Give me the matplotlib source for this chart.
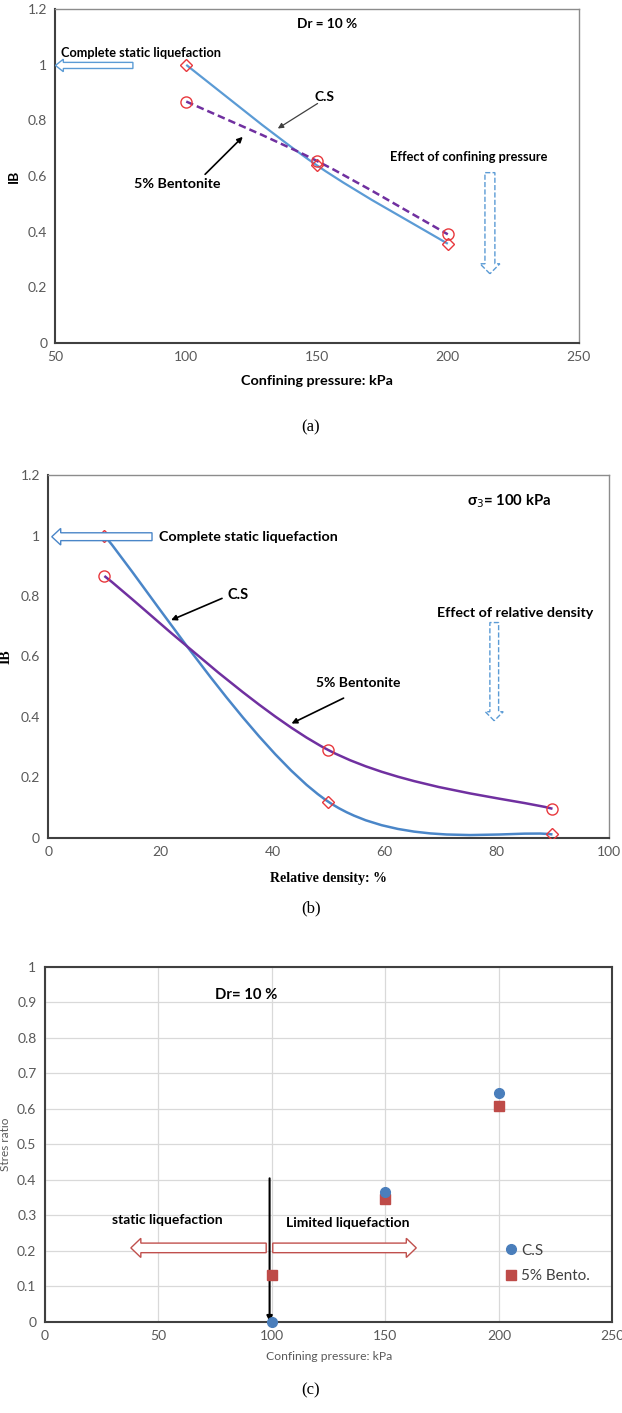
import matplotlib
matplotlib.use("Agg")
import matplotlib.pyplot as plt
import numpy as np
from matplotlib.path import Path
from matplotlib.patches import PathPatch, FancyArrow
from matplotlib.ticker import FormatStrFormatter

plt.rcParams['font.family'] = ['Lato', 'DejaVu Sans']

# (a) IB vs confining pressure, Dr = 10 %
press_a = [100, 150, 200]
ib_cs_a = [1.0, 0.638, 0.356]
ib_bent_a = [0.868, 0.654, 0.39]

# (b) IB vs relative density, sigma3 = 100 kPa
dr_b = [10, 50, 90]
ib_cs_b = [1.0, 0.119, 0.011]
ib_bent_b = [0.866, 0.29, 0.096]

# (c) stress ratio vs confining pressure, Dr = 10 %
press_c = [100, 150, 200]
sr_cs = [0.0, 0.366, 0.643]
sr_bent = [0.131, 0.345, 0.609]

TICK = '#595959'
BLUE = '#5B9BD5'
PURPLE = '#7030A0'
RED = '#E8383D'


def smooth_path(x, y):
    # excel style smoothed line: catmull-rom segments as cubic beziers
    p = np.column_stack([x, y]).astype(float)
    n = len(p)
    verts = [p[0]]
    codes = [Path.MOVETO]
    for i in range(n - 1):
        p0 = p[max(i - 1, 0)]
        p3 = p[min(i + 2, n - 1)]
        c1 = p[i] + (p[i + 1] - p0) / 6
        c2 = p[i + 1] - (p3 - p[i]) / 6
        verts += [c1, c2, p[i + 1]]
        codes += [Path.CURVE4] * 3
    return Path(verts, codes)


def style_box(ax):
    for s in ['top', 'right']:
        ax.spines[s].set_color('#8C8C8C')
        ax.spines[s].set_linewidth(1.0)
    for s in ['left', 'bottom']:
        ax.spines[s].set_color('#404040')
        ax.spines[s].set_linewidth(1.5)
    ax.tick_params(length=0, labelsize=10, labelcolor=TICK, pad=6)
    ax.yaxis.set_major_formatter(FormatStrFormatter('%g'))


def pointer(ax, tail, tip, color='black', lw=1.0):
    ax.annotate('', xy=tip, xytext=tail,
                arrowprops=dict(arrowstyle='-|>', color=color, lw=lw,
                                mutation_scale=8, shrinkA=0, shrinkB=0))


fig = plt.figure(figsize=(6.22, 14.13), dpi=100)

# ---------------- (a) ----------------
ax1 = fig.add_axes([0.0892, 0.7575, 0.841, 0.2359])
ax1.set_xlim(50, 250)
ax1.set_ylim(0, 1.2)
ax1.set_xticks(np.arange(50, 251, 50))
ax1.set_yticks(np.arange(0, 1.21, 0.2))
style_box(ax1)

ax1.add_patch(PathPatch(smooth_path(press_a, ib_cs_a), fill=False, ec=BLUE, lw=1.6, zorder=2))
ax1.add_patch(PathPatch(smooth_path(press_a, ib_bent_a), fill=False, ec=PURPLE, lw=1.8, ls=(0, (3, 1.6)), zorder=2))
ax1.plot(press_a, ib_cs_a, ls='none', marker='D', ms=6, mfc='none', mec=RED, mew=1.0, zorder=3)
ax1.plot(press_a, ib_bent_a, ls='none', marker='o', ms=8, mfc='none', mec=RED, mew=1.0, zorder=3)

ax1.text(153.9, 1.147, 'Dr = 10 %', fontsize=9.8, fontweight='bold', ha='center', va='center')
ax1.text(52.3, 1.041, 'Complete static liquefaction', fontsize=9.2, fontweight='bold', ha='left', va='center')
ax1.add_patch(FancyArrow(79.6, 0.998, -29.6, 0, width=0.022, head_width=0.045, head_length=3.0,
                         length_includes_head=True, fc='white', ec=BLUE, lw=1.0, zorder=4, clip_on=False))
ax1.text(152.9, 0.885, 'C.S', fontsize=10, fontweight='bold', ha='center', va='center')
pointer(ax1, (150.2, 0.861), (135.0, 0.771), color='#404040', lw=0.9)
ax1.text(96.7, 0.570, '5% Bentonite', fontsize=10.3, fontweight='bold', ha='center', va='center')
pointer(ax1, (107.2, 0.606), (121.6, 0.741), lw=1.2)
ax1.text(207.8, 0.669, 'Effect of confining pressure', fontsize=9.2, fontweight='bold', ha='center', va='center')
ax1.add_patch(FancyArrow(216.1, 0.612, 0, -0.364, width=3.8, head_width=7.6, head_length=0.036,
                         length_includes_head=True, fc='white', ec=BLUE, lw=1.0, ls='--', zorder=4))

ax1.set_xlabel('Confining pressure: kPa', fontsize=10.4, fontweight='bold', va='top')
ax1.xaxis.set_label_coords(0.5, -0.096)
ax1.set_ylabel('IB', fontsize=10, fontweight='bold')
ax1.yaxis.set_label_coords(-0.068, 0.5)
fig.text(0.5, 1 - 427 / 1413, '(a)', family='Liberation Serif', fontsize=12, ha='center', va='center')

# ---------------- (b) ----------------
ax2 = fig.add_axes([0.0778, 0.4071, 0.9005, 0.2567])
ax2.set_xlim(0, 100)
ax2.set_ylim(0, 1.2)
ax2.set_xticks(np.arange(0, 101, 20))
ax2.set_yticks(np.arange(0, 1.21, 0.2))
style_box(ax2)

ax2.add_patch(PathPatch(smooth_path(dr_b, ib_cs_b), fill=False, ec='#4A86C8', lw=1.8, zorder=2))
ax2.add_patch(PathPatch(smooth_path(dr_b, ib_bent_b), fill=False, ec=PURPLE, lw=1.8, zorder=2))
ax2.plot(dr_b, ib_cs_b, ls='none', marker='D', ms=6, mfc='none', mec=RED, mew=1.0, zorder=3)
ax2.plot(dr_b, ib_bent_b, ls='none', marker='o', ms=8, mfc='none', mec=RED, mew=1.0, zorder=3)

ax2.text(82.3, 1.112, r'σ$_3$= 100 kPa', fontsize=10.7, fontweight='bold', ha='center', va='center')
ax2.text(19.7, 0.996, 'Complete static liquefaction', fontsize=10.3, fontweight='bold', ha='left', va='center')
ax2.add_patch(FancyArrow(18.5, 0.996, -17.9, 0, width=0.026, head_width=0.055, head_length=1.6,
                         length_includes_head=True, fc='white', ec='#4A86C8', lw=1.0, zorder=4))
ax2.text(33.8, 0.803, 'C.S', fontsize=10.5, fontweight='bold', ha='center', va='center')
pointer(ax2, (31.0, 0.792), (21.9, 0.720), lw=1.2)
ax2.text(55.4, 0.513, '5% Bentonite', fontsize=10, fontweight='bold', ha='center', va='center')
pointer(ax2, (52.7, 0.462), (43.4, 0.378), lw=1.2)
ax2.text(83.4, 0.744, 'Effect of relative density', fontsize=10.3, fontweight='bold', ha='center', va='center')
ax2.add_patch(FancyArrow(79.6, 0.712, 0, -0.325, width=1.56, head_width=3.2, head_length=0.03,
                         length_includes_head=True, fc='white', ec=BLUE, lw=1.0, ls='--', zorder=4))

ax2.set_xlabel('Relative density: %', family='Liberation Serif', fontsize=10, fontweight='bold', va='top')
ax2.xaxis.set_label_coords(0.5, -0.095)
ax2.set_ylabel('IB', family='Liberation Serif', fontsize=10, fontweight='bold')
ax2.yaxis.set_label_coords(-0.064, 0.5)
fig.text(0.5, 1 - 908 / 1413, '(b)', family='Liberation Serif', fontsize=12, ha='center', va='center')

# ---------------- (c) ----------------
ax3 = fig.add_axes([0.072, 0.0646, 0.9127, 0.2512])
ax3.set_xlim(0, 250)
ax3.set_ylim(0, 1)
ax3.set_xticks(np.arange(0, 251, 50))
ax3.set_yticks(np.arange(0, 1.01, 0.1))
ax3.grid(True, color='#D9D9D9', lw=0.9)
ax3.set_axisbelow(True)
for s in ax3.spines.values():
    s.set_color('#404040')
    s.set_linewidth(1.5)
ax3.tick_params(length=0, labelsize=10, labelcolor=TICK, pad=6)
ax3.yaxis.set_major_formatter(FormatStrFormatter('%g'))

ax3.plot(press_c, sr_cs, ls='none', marker='o', ms=7, color='#4A7EBB', label='C.S', zorder=5, clip_on=False)
ax3.plot(press_c, sr_bent, ls='none', marker='s', ms=7, color='#BE4B48', label='5% Bento.', zorder=4)

ax3.text(88.5, 0.920, 'Dr= 10 %', fontsize=10.7, fontweight='bold', ha='center', va='center')
ax3.text(54.1, 0.286, 'static liquefaction', fontsize=10, fontweight='bold', ha='center', va='center')
ax3.text(133.4, 0.277, 'Limited liquefaction', fontsize=10, fontweight='bold', ha='center', va='center')
ax3.add_patch(FancyArrow(97.5, 0.208, -59.6, 0, width=0.027, head_width=0.054, head_length=4.4,
                         length_includes_head=True, fc='white', ec='#C0504D', lw=1.0, zorder=3))
ax3.add_patch(FancyArrow(100.4, 0.208, 63.2, 0, width=0.027, head_width=0.054, head_length=4.4,
                         length_includes_head=True, fc='white', ec='#C0504D', lw=1.0, zorder=3))
pointer(ax3, (99, 0.404), (99, 0.0), lw=1.5)

ax3.legend(loc='upper left', bbox_to_anchor=(0.81, 0.22), frameon=False, fontsize=11,
           handlelength=0.8, handletextpad=0.3, labelspacing=0.75, borderpad=0, borderaxespad=0,
           labelcolor='#404040')

ax3.set_xlabel('Confining pressure: kPa', fontsize=8.7, color=TICK, va='top')
ax3.xaxis.set_label_coords(0.5, -0.083)
ax3.set_ylabel('Stres ratio', fontsize=8.5, color=TICK)
ax3.yaxis.set_label_coords(-0.059, 0.5)
fig.text(0.5, 1 - 1390 / 1413, '(c)', family='Liberation Serif', fontsize=12, ha='center', va='center')

fig.savefig('out.png', dpi=100, facecolor='white')
